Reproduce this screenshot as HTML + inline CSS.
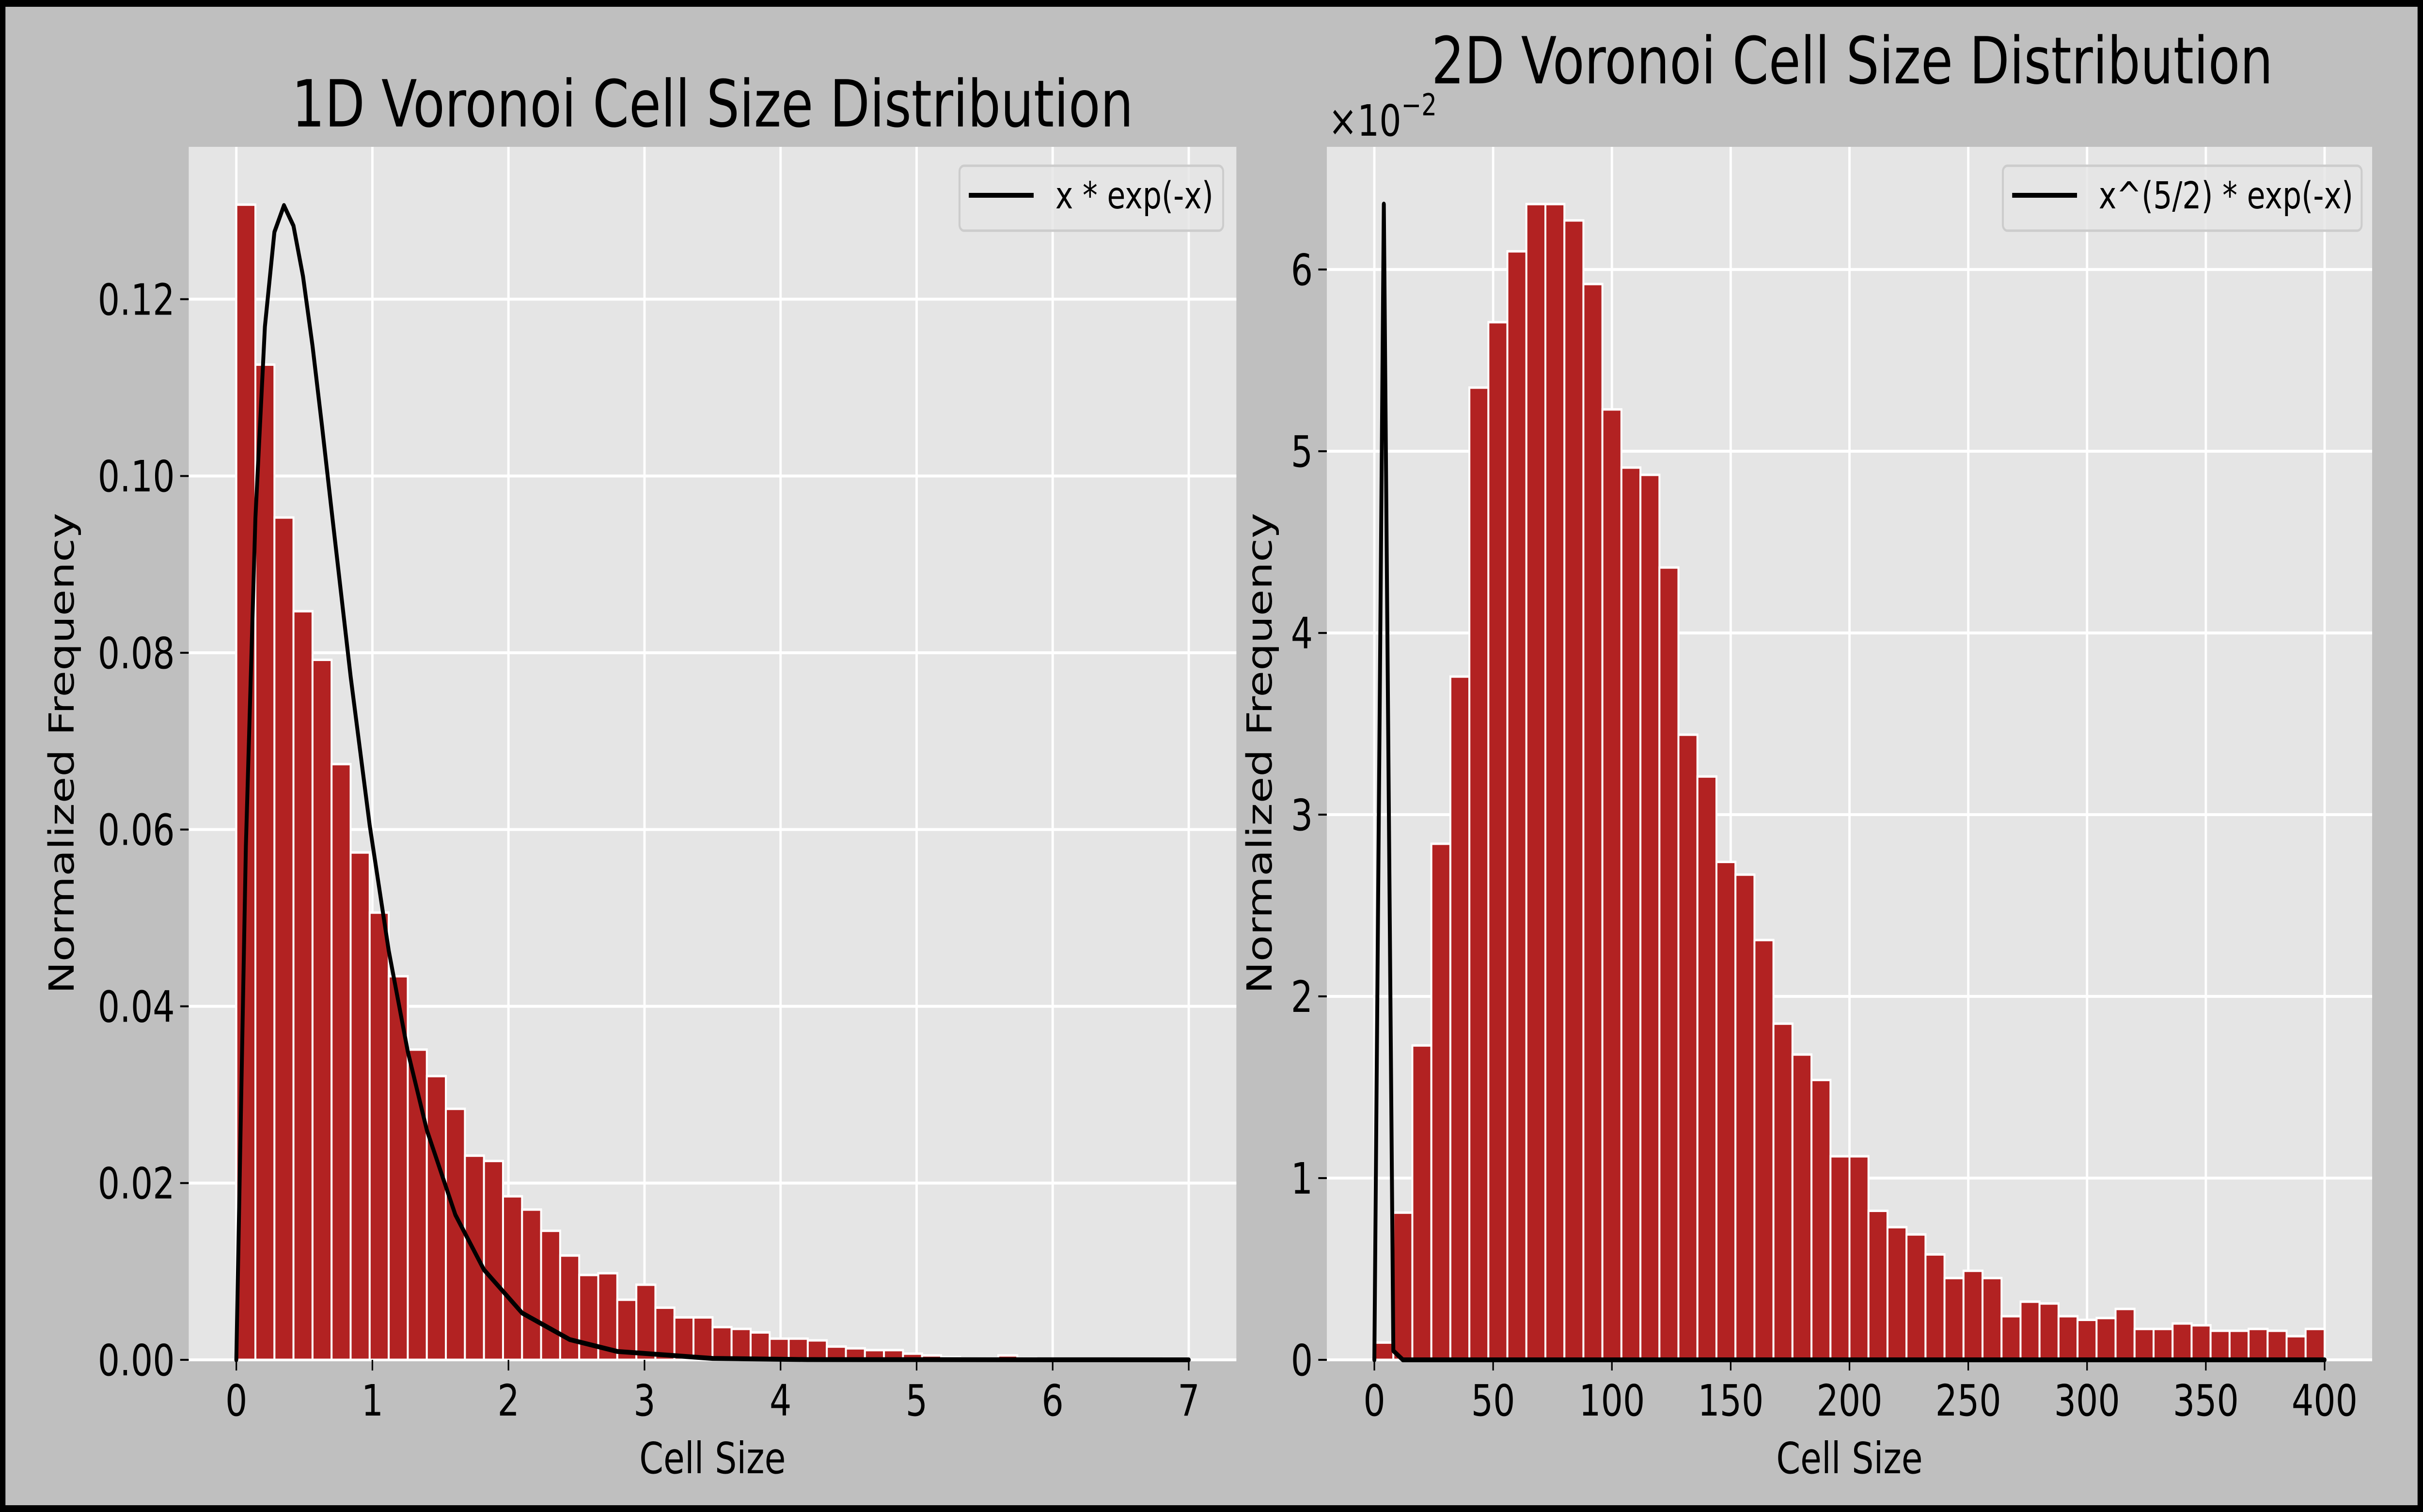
<!DOCTYPE html>
<html><head><meta charset="utf-8">
<style>
html,body{margin:0;padding:0;background:#bfbfbf;width:100%;height:100%;overflow:hidden;}
svg{display:block;position:absolute;left:0;top:0;width:100vw;height:100vh;}
text{font-family:"DejaVu Sans","Liberation Sans",sans-serif;fill:#000;}
</style></head>
<body>
<svg id="fig" xmlns="http://www.w3.org/2000/svg" viewBox="0 0 6240 3120" preserveAspectRatio="none">
<rect x="0" y="0" width="6240" height="3120" fill="#bfbfbf" stroke="#000" stroke-width="28"/>
<g id="left"></g>
<g id="right"></g>
</svg>
<script>
// ---- 1D data ----
const bins1D = [0,7,50];
const freq1D = [0.1307,0.1126,0.0953,0.0847,0.0792,0.0674,0.0574,0.0506,0.0434,0.0351,
0.0321,0.0284,0.0231,0.0225,0.0185,0.0170,0.0146,0.0118,0.0096,0.0098,
0.0068,0.0085,0.0059,0.0048,0.0048,0.0037,0.0035,0.0031,0.0024,0.0024,
0.0022,0.0015,0.0013,0.0011,0.0011,0.0007,0.0005,0.0003,0.0002,0.0002,
0.0005,0.0002,0.0001,0.0001,0.0001,0.0001,0.0001,0.0001,0.0001,0.0001];
const curveX1D = [0,0.07,0.14,0.21,0.28,0.35,0.42,0.49,0.56,0.63,0.70,0.84,0.98,1.12,1.26,1.40,1.61,1.82,2.10,2.45,2.80,3.50,4.20,7.0];
const curveY1D = [0,0.0581,0.0952,0.1169,0.1276,0.1306,0.1283,0.1226,0.1147,0.1056,0.0961,0.0773,0.0605,0.0463,0.0349,0.0260,0.0164,0.0102,0.0053,0.0023,0.00095,0.00016,0.00003,0];
const xTicks1D = [0,1,2,3,4,5,6,7];
const yTicks1D = [0,0.02,0.04,0.06,0.08,0.10,0.12];
const yTickLabels1D = ["0.00","0.02","0.04","0.06","0.08","0.10","0.12"];
// ---- 2D data (units of 1e-2) ----
const bins2D = [0,400,50];
const freq2D = [0.095,0.81,1.73,2.84,3.76,5.35,5.71,6.10,6.36,6.36,
6.27,5.92,5.23,4.91,4.87,4.36,3.44,3.21,2.74,2.67,
2.31,1.85,1.68,1.54,1.12,1.12,0.82,0.73,0.69,0.58,
0.45,0.49,0.45,0.24,0.32,0.31,0.24,0.22,0.23,0.28,
0.17,0.17,0.20,0.19,0.16,0.16,0.17,0.16,0.13,0.17];
const curveX2D = [0,4,8,12,400];
const curveY2D = [0,6.36,0.05,0,0];
const xTicks2D = [0,50,100,150,200,250,300,350,400];
const yTicks2D = [0,1,2,3,4,5,6];
const yTickLabels2D = ["0","1","2","3","4","5","6"];

const NS="http://www.w3.org/2000/svg";
function mk(parent,tag,attrs,txt){const e=document.createElementNS(NS,tag);for(const k in attrs)e.setAttribute(k,attrs[k]);if(txt!==undefined)e.textContent=txt;parent.appendChild(e);return e;}

function panel(g,cfg){
  const {px0,px1,py0,py1,xmin,xmax,ymax}=cfg;
  const sx=v=>px0+(v-xmin)/(xmax-xmin)*(px1-px0);
  const sy=v=>py1-v/ymax*(py1-py0);
  const bg=mk(g,'rect',{x:px0,y:py0,width:px1-px0,height:py1-py0,fill:'#e5e5e5'});
  
  
  cfg.xTicks.forEach(t=>{const l=mk(g,'line',{x1:sx(t),x2:sx(t),y1:py0,y2:py1,stroke:'#fff','stroke-width':6});
    });
  cfg.yTicks.forEach(t=>{const l=mk(g,'line',{x1:px0,x2:px1,y1:sy(t),y2:sy(t),stroke:'#fff','stroke-width':6});
    });
  const [b0,b1,n]=cfg.bins;const w=(b1-b0)/n;
  cfg.freq.forEach((v,i)=>{const x=sx(b0+i*w),x2=sx(b0+(i+1)*w);
    const r=mk(g,'rect',{x:x,y:sy(v),width:x2-x,height:py1-sy(v),fill:'#b22222',stroke:'#fff','stroke-width':5});
    });
  const pts=cfg.cx.map((x,i)=>sx(x).toFixed(1)+','+sy(cfg.cy[i]).toFixed(1)).join(' ');
  const pl=mk(g,'polyline',{points:pts,fill:'none',stroke:'#000','stroke-width':10,'stroke-linejoin':'round','stroke-linecap':'round'});
  
  cfg.xTicks.forEach(t=>{mk(g,'line',{x1:sx(t),x2:sx(t),y1:py1,y2:py1+22,stroke:'#000','stroke-width':4});
    const tx=mk(g,'text',{x:sx(t),y:2921,'font-size':89,'text-anchor':'middle'},String(t));
    });
  cfg.yTicks.forEach((t,i)=>{mk(g,'line',{x1:px0-22,x2:px0,y1:sy(t),y2:sy(t),stroke:'#000','stroke-width':4});
    const tx=mk(g,'text',{x:px0-36,y:sy(t)+32,'font-size':89,'text-anchor':'end'},cfg.yLabels[i]);
    });
  const xl=mk(g,'text',{x:(px0+px1)/2,y:3040,'font-size':89,'text-anchor':'middle'},'Cell Size');
  
  const yc=(py0+py1)/2;
  const yl=mk(g,'text',{x:cfg.ylx,y:yc,'font-size':89,'text-anchor':'middle',transform:`rotate(-90 ${cfg.ylx} ${yc})`},'Normalized Frequency');
  
  const ti=mk(g,'text',{x:cfg.titleX,y:cfg.titleY,'font-size':134,'text-anchor':'middle'},cfg.title);
  
  const L=cfg.leg;
  const lg=mk(g,'g',{});
  
  mk(lg,'rect',{x:L.x,y:342,width:L.w,height:134,rx:12,fill:'#e5e5e5','fill-opacity':0.8,stroke:'#cccccc','stroke-width':5});
  mk(lg,'line',{x1:L.x+24,x2:L.x+191,y1:403,y2:403,stroke:'#000','stroke-width':10});
  const lt=mk(lg,'text',{x:L.x+247,y:430,'font-size':77},L.label);
  
}
panel(document.getElementById('left'),{px0:486,px1:3184,py0:303,py1:2806,xmin:-0.35,xmax:7.35,ymax:0.13724,
  xTicks:xTicks1D,yTicks:yTicks1D,yLabels:yTickLabels1D,bins:bins1D,freq:freq1D,cx:curveX1D,cy:curveY1D,
  ylx:190,title:'1D Voronoi Cell Size Distribution',titleX:1835,titleY:261,
  leg:{x:2471,w:679,label:'x * exp(-x)'}});
panel(document.getElementById('right'),{px0:3417,px1:6109,py0:303,py1:2806,xmin:-20,xmax:420,ymax:6.675,
  xTicks:xTicks2D,yTicks:yTicks2D,yLabels:yTickLabels2D,bins:bins2D,freq:freq2D,cx:curveX2D,cy:curveY2D,
  ylx:3275,title:'2D Voronoi Cell Size Distribution',titleX:4770,titleY:172,
  leg:{x:5158,w:924,label:'x^(5/2) * exp(-x)'}});
const off=mk(document.getElementById('right'),'text',{x:3421,y:280,'font-size':89});


off.textContent='×10';
mk(off,'tspan',{dy:-42,'font-size':62},'−2');
</script>
</body></html>
